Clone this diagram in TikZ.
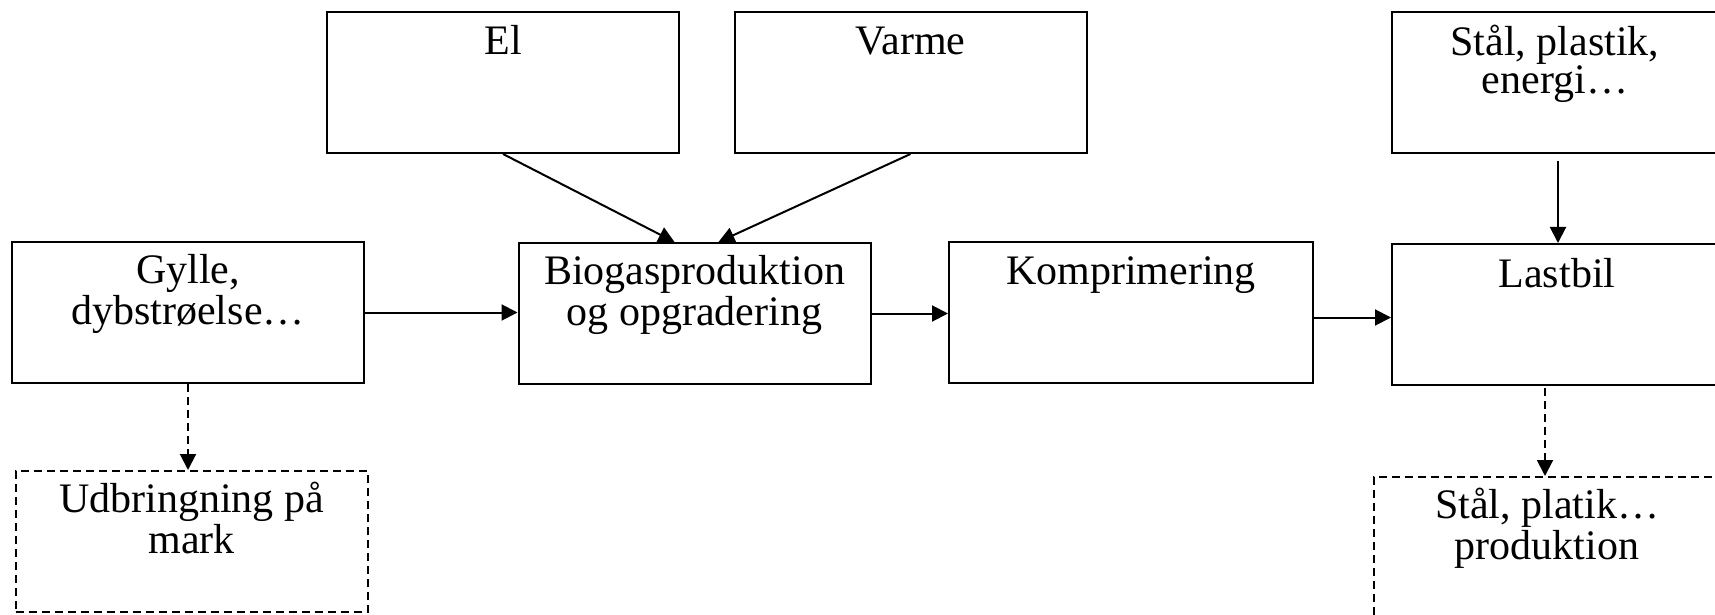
\documentclass[tikz,border=0pt]{standalone}
\usepackage{fontspec}
\setmainfont{Liberation Serif}
\usetikzlibrary{calc, arrows.meta}

\begin{document}
\begin{tikzpicture}[x=0.5pt, y=-0.5pt, line width=1pt,
		box/.style = {draw, rectangle, minimum width=176pt, minimum height=70.5pt, inner sep=0pt},
		dbox/.style = {box, dash pattern=on 4pt off 2.5pt},
		dline/.style = {dash pattern=on 4pt off 2.5pt},
		txt/.style = {anchor=base, align=center, inner sep=0pt, font=\fontsize{21}{19}\selectfont},
		>={Triangle[length=8pt, width=8pt]}]
	\def\one{44};
	\def\two{83};
	\useasboundingbox (0,0) rectangle (1715,615);
	\clip (0,0) rectangle (1715,615);

	% top row
	\node [box] (el) at (503,82.5) {};
	\node [box] (varme) at (910.5,82.5) {};
	\node [box] (stal) at (1568,82.5) {};

	% middle row
	\node [box] (gylle) at (188,312.5) {};
	\node [box] (bio) at (694.5,313.5) {};
	\node [box, minimum width=182pt] (komp) at (1131,312.5) {};
	\node [box] (last) at (1568,314.5) {};

	% bottom row
	\node [dbox] (udb) at (191.5,541.5) {};
	\node [dbox] (prod) at (1550,547.5) {};

	% texts
	\node [txt] (el-t) at ($(el.north)+(0,\one)$) {El};
	\node [txt] (varme-t) at ($(varme.north)+(0,\one)$) {Varme};
	\node [txt] (stal-t) at ($(stal.north west)+(164,\two)$) {Stål, plastik,\\energi…};
	\node [txt] (gylle-t) at ($(gylle.north)+(0,\two)$) {Gylle,\\dybstrøelse…};
	\node [txt] (bio-t) at ($(bio.north)+(0,\two)$) {Biogasproduktion\\og opgradering};
	\node [txt] (komp-t) at ($(komp.north)+(0,\one)$) {Komprimering};
	\node [txt] (last-t) at ($(last.north west)+(166,\one)$) {Lastbil};
	\node [txt] (udb-t) at ($(udb.north)+(0,\two)$) {Udbringning på\\mark};
	\node [txt] (prod-t) at ($(prod.north west)+(174,\two)$) {Stål, platik…\\produktion};

	% arrows
	\coordinate (k-l) at ($(last.west)+(0,3)$);
	\draw [->] (gylle.east) -- (gylle.east -| bio.west);
	\draw [->] (bio.east) -- (bio.east -| komp.west);
	\draw [->] (k-l -| komp.east) -- (k-l);
	\draw [->] (el.south) -- ($(bio.north)+(-20,0)$);
	\draw [->] (varme.south) -- ($(bio.north)+(24,0)$);
	\draw [->] ($(stal.south west)+(167,7)$) -- ($(last.north west)+(167,0)$);
	\draw [->, dline] (gylle.south) -- (gylle.south |- udb.north);
	\draw [->, dline] ($(last.south west)+(154,2)$) -- ($(prod.north west)+(172,0)$);
\end{tikzpicture}
\end{document}
